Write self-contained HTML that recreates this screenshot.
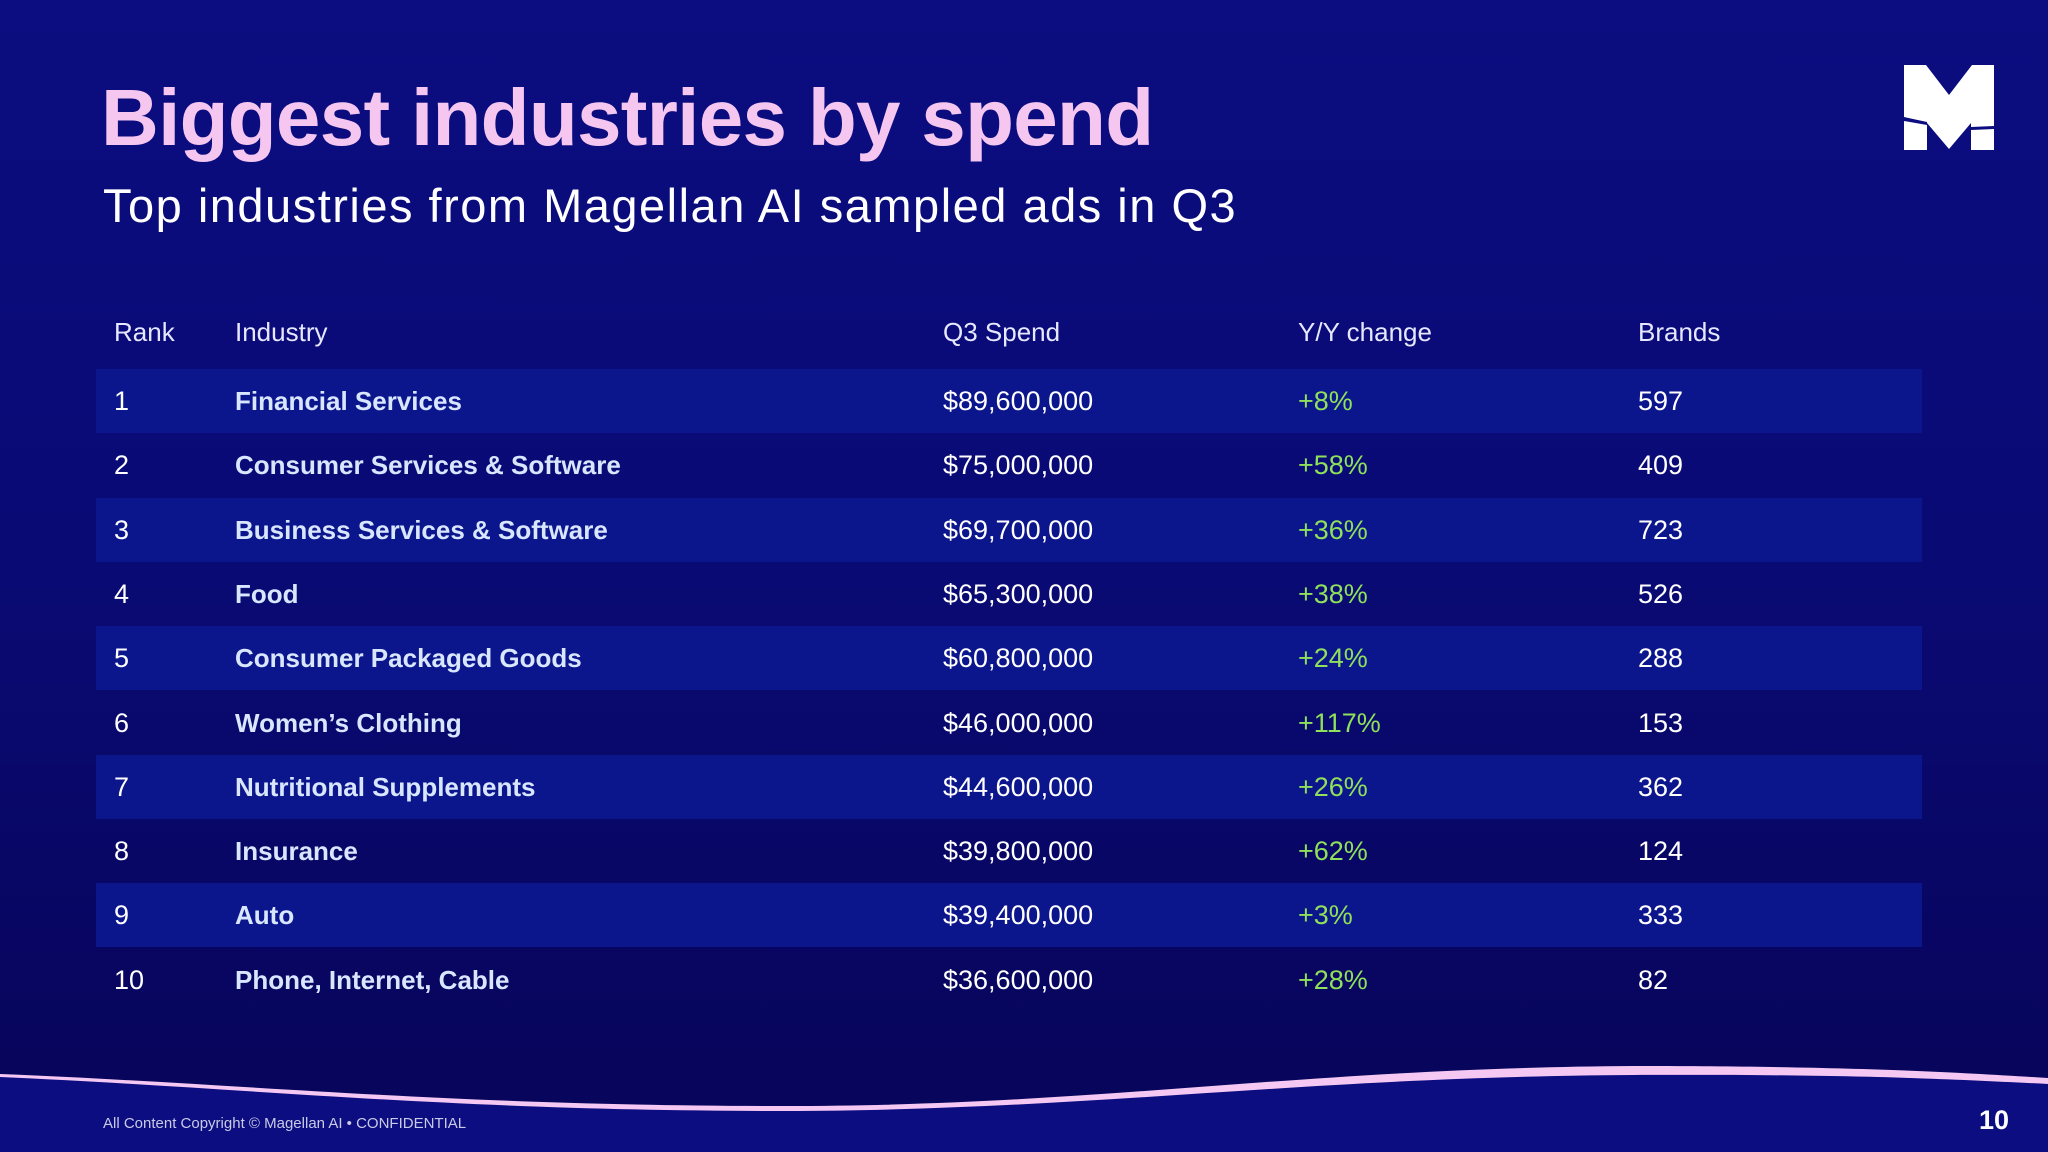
<!DOCTYPE html>
<html><head><meta charset="utf-8"><style>
html,body{margin:0;padding:0}
body{width:2048px;height:1152px;position:relative;overflow:hidden;font-family:"Liberation Sans",sans-serif;background:linear-gradient(180deg,#0b0d80 0%,#0a0a74 50%,#07055c 92%);color:#fff}
.abs{position:absolute;white-space:nowrap}
#title{left:101px;top:72px;font-size:80px;font-weight:bold;color:#f5c6ef;letter-spacing:-0.7px}
#sub{left:103px;top:178px;font-size:47px;color:#fff;letter-spacing:1.5px}
.row{position:absolute;left:96px;width:1826px;height:64px}
.cell{position:absolute;top:0;line-height:64px;font-size:27px}
.hdr{font-size:26px;color:#e6e8ff}
</style></head><body>
<div id="title" class="abs">Biggest industries by spend</div>
<div id="sub" class="abs">Top industries from Magellan AI sampled ads in Q3</div>
<svg class="abs" style="left:1904px;top:65px" width="90" height="85" viewBox="0 0 90 85">
<path d="M0 0H22L45 30L68 0H90V85H67V58L45 84L23 58V85H0Z" fill="#fff"/>
<path d="M0 52L23 57L23 60L0 56Z" fill="#0b0d80"/><path d="M67 62L90 61V64L67 65Z" fill="#0b0d80"/>
</svg>
<div class="row" style="top:300px">
<div class="cell hdr" style="left:18px">Rank</div>
<div class="cell hdr" style="left:139px">Industry</div>
<div class="cell hdr" style="left:847px">Q3 Spend</div>
<div class="cell hdr" style="left:1202px">Y/Y change</div>
<div class="cell hdr" style="left:1542px">Brands</div>
</div>
<div id="tbody"></div>
<svg class="abs" style="left:0;top:1040px" width="2048" height="112">
<path d="M0 35 C250 45 450 68 784 68 C1100 68 1300 32 1633 30 C1850 30 1950 36 2048 42 L2048 112 L0 112Z" fill="#0b0d80"/>
<path d="M0 34 C250 44 450 66 784 66 C1100 66 1300 28 1633 26 C1850 26 1950 32 2048 38 L2048 44 C1950 39 1850 34 1633 35 C1300 37 1100 70 784 71 C450 71 250 48 0 37Z" fill="#f4c8f2"/>
</svg>
<div class="abs" style="left:103px;top:1115px;font-size:15px;color:#c9cbe6">All Content Copyright © Magellan AI • CONFIDENTIAL</div>
<div class="abs" style="left:1979px;top:1105px;font-size:27px;font-weight:bold;color:#fff">10</div>
<script>
const ranks=["1","2","3","4","5","6","7","8","9","10"];
const industries=["Financial Services","Consumer Services & Software","Business Services & Software","Food","Consumer Packaged Goods","Women’s Clothing","Nutritional Supplements","Insurance","Auto","Phone, Internet, Cable"];
const spend=["$89,600,000","$75,000,000","$69,700,000","$65,300,000","$60,800,000","$46,000,000","$44,600,000","$39,800,000","$39,400,000","$36,600,000"];
const yoy=["+8%","+58%","+36%","+38%","+24%","+117%","+26%","+62%","+3%","+28%"];
const brands=["597","409","723","526","288","153","362","124","333","82"];
const tb=document.getElementById('tbody');
ranks.forEach((r,i)=>{
  const row=document.createElement('div');
  row.className='row';
  
  
  row.style.top=(369+i*64.3)+'px';
  row.style.background=i%2===0?'#0c168c':'transparent';
  const cells=[[r,18,'#fff','normal','rank-cell',27],[industries[i],139,'#d8e6ff','bold','industry-cell',26],[spend[i],847,'#fff','normal','spend-cell',27],[yoy[i],1202,'#8fe05a','normal','yoy-cell',27],[brands[i],1542,'#fff','normal','brands-cell',27]];
  cells.forEach(c=>{
    const d=document.createElement('div');
    d.className='cell';
    
    
    d.textContent=c[0];d.style.left=c[1]+'px';d.style.color=c[2];d.style.fontWeight=c[3];d.style.fontSize=c[5]+'px';
    row.appendChild(d);
  });
  tb.appendChild(row);
});
</script>
</body></html>
